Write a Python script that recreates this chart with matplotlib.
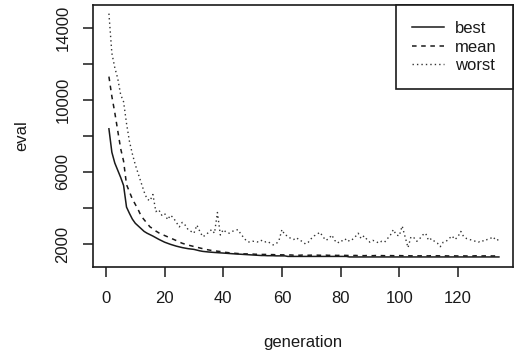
import numpy as np
import matplotlib
matplotlib.use('Agg')
import matplotlib.pyplot as plt

# ── data (one value per generation) ──────────────────────────────────────────
best = [8400, 7100, 6500, 6100, 5700, 5250, 4050, 3700, 3380, 3150,
        3000, 2850, 2700, 2600, 2520, 2440, 2350, 2260, 2180, 2100,
        2040, 1980, 1930, 1880, 1840, 1800, 1770, 1740, 1720, 1700,
        1660, 1620, 1590, 1570, 1555, 1540, 1530, 1520, 1510, 1500,
        1485, 1470, 1460, 1450, 1440, 1430, 1420, 1410, 1400, 1390,
        1380, 1370, 1360, 1360, 1350, 1350, 1350, 1340, 1340, 1340,
        1340, 1310, 1310, 1310, 1310, 1310, 1310, 1310, 1310, 1310,
        1310, 1310, 1310, 1310, 1310, 1310, 1310, 1310, 1310, 1310,
        1310, 1310, 1280, 1280, 1280, 1280, 1280, 1280, 1280, 1280,
        1280, 1280, 1280, 1280, 1280, 1280, 1280, 1280, 1280, 1280,
        1280, 1280, 1280, 1280, 1280, 1280, 1280, 1280, 1280, 1280,
        1280, 1280, 1280, 1280, 1280, 1280, 1280, 1280, 1280, 1280,
        1280, 1280, 1280, 1280, 1280, 1280, 1280, 1280, 1280, 1280,
        1280, 1280, 1280, 1280]

mean = [11300, 10200, 9300, 8300, 7300, 6600, 5300, 4900, 4500, 4200,
        3900, 3550, 3350, 3150, 2950, 2850, 2720, 2620, 2540, 2470,
        2400, 2330, 2260, 2190, 2110, 2040, 1990, 1940, 1900, 1860,
        1820, 1780, 1740, 1700, 1670, 1640, 1620, 1600, 1580, 1550,
        1530, 1510, 1495, 1480, 1470, 1460, 1450, 1450, 1440, 1440,
        1430, 1430, 1420, 1420, 1420, 1410, 1410, 1400, 1400, 1400,
        1395, 1385, 1390, 1380, 1385, 1375, 1385, 1380, 1375, 1380,
        1370, 1380, 1375, 1370, 1380, 1370, 1375, 1370, 1365, 1375,
        1370, 1365, 1360, 1355, 1365, 1355, 1360, 1350, 1360, 1355,
        1350, 1360, 1350, 1355, 1350, 1345, 1355, 1350, 1345, 1355,
        1350, 1345, 1350, 1340, 1350, 1345, 1340, 1350, 1345, 1340,
        1350, 1340, 1345, 1340, 1345, 1340, 1335, 1345, 1340, 1335,
        1345, 1340, 1335, 1340, 1335, 1345, 1340, 1335, 1340, 1335,
        1340, 1335, 1340, 1335]

worst = [14800, 12600, 11800, 11200, 10300, 9900, 8700, 7700, 7000, 6400,
         5900, 5400, 4900, 4500, 4400, 4750, 3800, 3900, 3600, 3700,
         3350, 3600, 3450, 3200, 2950, 3200, 3050, 2800, 2700, 2600,
         3050, 2700, 2400, 2500, 2650, 2800, 2600, 3750, 2500, 2800,
         2650, 2600, 2700, 2750, 2800, 2550, 2350, 2150, 2100, 2150,
         2150, 2100, 2200, 2100, 2150, 2050, 1950, 2000, 2200, 2800,
         2500, 2450, 2300, 2250, 2350, 2200, 2150, 2000, 2100, 2300,
         2450, 2550, 2650, 2400, 2200, 2300, 2500, 2200, 2050, 2200,
         2150, 2300, 2150, 2250, 2400, 2600, 2300, 2450, 2250, 2100,
         2200, 2150, 2050, 2150, 2100, 2300, 2500, 2800, 2500, 2450,
         3000, 2400, 1800, 2400, 2350, 2150, 2300, 2500, 2600, 2200,
         2300, 2150, 2050, 1850, 2100, 2150, 2300, 2450, 2250, 2400,
         2700, 2400, 2300, 2250, 2200, 2150, 2100, 2200, 2150, 2250,
         2300, 2400, 2200, 2250]

x_ticks = [0, 20, 40, 60, 80, 100, 120]
y_ticks = [2000, 4000, 6000, 8000, 10000, 12000, 14000]
y_tick_labels = ['2000', '', '6000', '', '10000', '', '14000']

INK = '#1a1a1a'

plt.rcParams['font.family'] = ['Liberation Sans', 'DejaVu Sans']
plt.rcParams['font.size'] = 12

W, H = 516, 355
fig = plt.figure(figsize=(W / 100, H / 100), dpi=100)
ax = fig.add_axes([93 / W, 1 - 267 / H, 420 / W, 262 / H])

gen = np.arange(1, len(best) + 1)
ax.plot(gen, best, color=INK, lw=1.1, ls='-', label='best')
ax.plot(gen, mean, color=INK, lw=1.1, ls=(0, (3, 3)), label='mean')
ax.plot(gen, worst, color='#333333', lw=1.0, ls=(0, (1, 2.2)), label='worst')

ax.set_xlim(-4.43, 138.8)
ax.set_ylim(722, 15278)
ax.set_xticks(x_ticks)
ax.set_yticks(y_ticks)
ax.set_yticklabels(y_tick_labels, rotation=90, va='center')

for sp in ax.spines.values():
    sp.set_color(INK)
    sp.set_linewidth(1.2)
ax.tick_params(direction='out', length=7.2, width=1.1, color=INK,
               labelcolor=INK)
ax.tick_params(axis='x', pad=10)
ax.tick_params(axis='y', pad=9)

ax.set_xlabel('generation', va='center', color=INK)
ax.xaxis.set_label_coords(0.5, (267 - 342) / 262)
ax.set_ylabel('eval', va='center', color=INK)
ax.yaxis.set_label_coords((22 - 93) / 420, 0.5)

leg = ax.legend(loc='upper right', borderaxespad=0, fancybox=False,
                framealpha=1, edgecolor=INK, handlelength=1.9,
                handletextpad=0.7, labelspacing=0.22, borderpad=0.95)
leg.get_frame().set_linewidth(1.2)
for t in leg.get_texts():
    t.set_color(INK)

fig.savefig('out.png', dpi=100)
